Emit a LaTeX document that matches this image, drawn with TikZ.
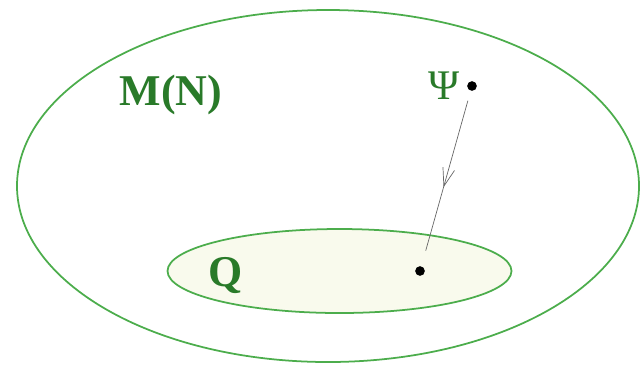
\documentclass[tikz,border=0pt]{standalone}
\usepackage{fontspec}
\setmainfont{Liberation Serif}
\usepackage{xcolor}
\usetikzlibrary{arrows.meta, positioning, decorations.markings}

\definecolor{setgreen}{rgb}{0.30,0.68,0.30}
\definecolor{labelgreen}{rgb}{0.16,0.48,0.16}
\definecolor{subfill}{rgb}{0.975,0.98,0.93}

\begin{document}
\begin{tikzpicture}[
    x=0.02cm, y=-0.02cm,
    setline/.style={draw=setgreen, line width=1pt},
    lbl/.style={font=\fontsize{25}{25}\selectfont\bfseries, text=labelgreen, inner sep=0pt},
    pt/.style={circle, fill=black, inner sep=0pt, minimum size=5.5pt},
    flow/.style={draw=black!60, line width=0.4pt,
                 postaction={decorate, decoration={markings,
                     mark=at position 0.55 with {\arrow{Straight Barb[length=3.6mm, width=2.4mm, line width=0.4pt]}}}}},
]
    \useasboundingbox (0,0) rectangle (641,370);

    % ── outer set ──
    \draw[setline] (328,186) ellipse [x radius=311, y radius=176];
    \node[lbl] (MN) at (171,95) {M(N)};

    % ── subset Q ──
    \draw[setline, fill=subfill] (339.5,271) ellipse [x radius=172, y radius=42];
    \node[lbl] (Q) at (226,276) {Q};

    % ── points ──
    \node[pt] (psi) at (472,86) {};
    \node[lbl, font=\fontsize{24}{24}\selectfont, left=0.14cm of psi] (psilbl) {Ψ};
    \node[pt] (q) at (420,271) {};

    % ── projection ──
    \draw[flow, shorten <=0.2cm, shorten >=0.32cm] (psi) -- (q);

\end{tikzpicture}
\end{document}
